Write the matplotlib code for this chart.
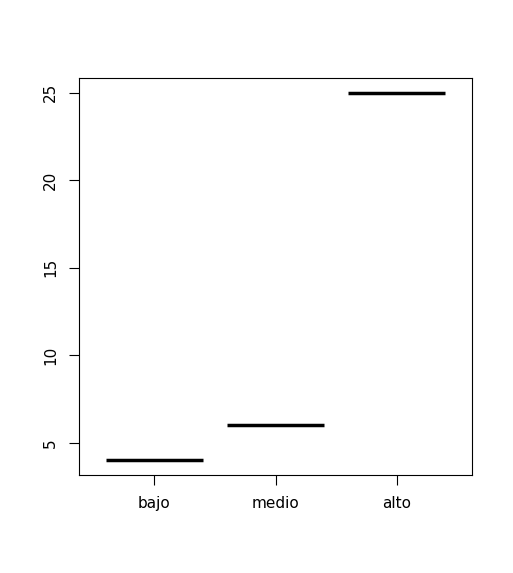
import matplotlib

matplotlib.use("Agg")
import matplotlib.pyplot as plt

categories = ["bajo", "medio", "alto"]
values = [4, 6, 25]
yticks = [5, 10, 15, 20, 25]

W, H = 513, 573
fig = plt.figure(figsize=(W / 100, H / 100), dpi=100)
ax = fig.add_axes([79 / W, (H - 475) / H, 393 / W, 397 / H])

positions = range(1, len(categories) + 1)
for x, v in zip(positions, values):
    ax.hlines(v, x - 0.4, x + 0.4, color="black", linewidth=2.5)

ax.set_xlim(0.38, 3.62)
ax.set_ylim(3.16, 25.84)
ax.set_xticks(list(positions))
ax.set_xticklabels(categories, fontsize=11)
ax.set_yticks(yticks)
ax.set_yticklabels([str(t) for t in yticks], fontsize=11, rotation=90, va="center")
ax.tick_params(direction="out", length=7, width=0.8, pad=8)
for s in ax.spines.values():
    s.set_linewidth(0.8)

fig.savefig("out.png", dpi=100, facecolor="white")
